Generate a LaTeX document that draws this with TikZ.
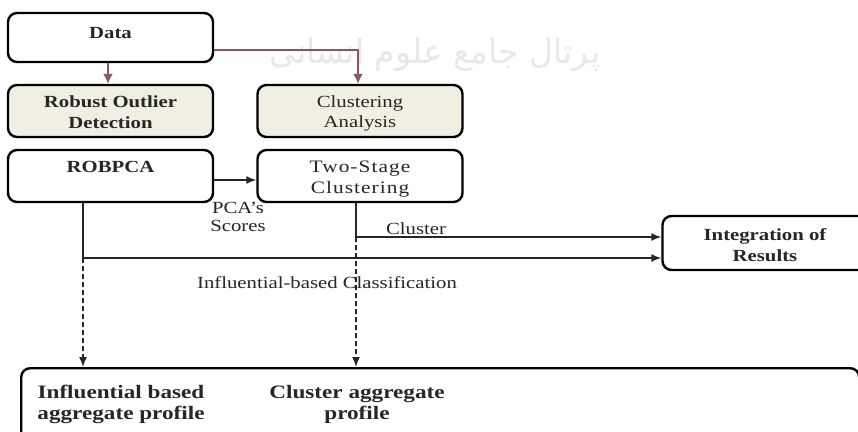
\documentclass[tikz,border=0pt]{standalone}
\usepackage{fontspec}
\setmainfont[FakeStretch=1.22]{Liberation Serif}
\newfontfamily\fafont[Script=Arabic]{DejaVu Sans}
\TeXXeTstate=1
\usetikzlibrary{arrows.meta}
\definecolor{beige}{RGB}{240,239,226}
\definecolor{mauve}{RGB}{140,85,95}
\tikzset{
  box/.style={draw=black, line width=2.4pt, rounded corners=9pt, minimum width=205pt, minimum height=52pt, inner sep=0pt, fill=white},
  shaded/.style={box, fill=beige},
  lbl/.style={font=\fontsize{17}{21}\selectfont\bfseries, align=center, text=black!85, inner sep=0pt},
  lblr/.style={lbl, font=\fontsize{17}{20}\selectfont},
  bigl/.style={lbl, font=\fontsize{19}{21}\selectfont\bfseries},
  conn/.style={line width=1.5pt, draw=black!85, -{Latex[length=10pt,width=8pt]}},
  line/.style={line width=1.5pt, draw=black!85},
  dconn/.style={conn, dash pattern=on 5pt off 3pt},
  mconn/.style={conn, draw=mauve, line width=1.8pt, -{Latex[length=10pt,width=10pt]}},
  wm/.style={text=black!9, font=\fafont\fontsize{33}{33}\selectfont, inner sep=0pt}
}
\begin{document}
\begin{tikzpicture}[x=1pt,y=-1pt]
\useasboundingbox (0,0) rectangle (858,431);
\clip (0,0) rectangle (858,431);
\fill[white] (0,0) rectangle (858,431);
% watermark
\node[wm] (wmark) at (435,55) {\beginR پرتال جامع علوم انسانی\endR};
% boxes
\node[box] (data) at (110.5,37.5) [minimum height=49pt] {};
\node[lbl] (datat) at (110.5,33) {Data};
\node[shaded] (rod) at (110.5,111) {};
\node[lbl] (rodt) at (110.5,112.5) {Robust Outlier\\Detection};
\node[shaded] (ca) at (360,111) {};
\node[lblr] (cat) at (360,113) {Clustering\\Analysis};
\node[box] (rob) at (110.5,176) {};
\node[lbl] (robt) at (110.5,167) {ROBPCA};
\node[box] (ts) at (360,176) {};
\node[lblr, font=\fontsize{17.5}{21}\selectfont\addfontfeature{LetterSpace=6}] (tst) at (360,179) {Two-Stage\\Clustering};
\node[box, minimum height=54pt] (int) at (765,243) {};
\node[lbl] (intt) at (765,245) {Integration of\\Results};
\node[box, anchor=north west, minimum width=838pt, minimum height=80pt] (bot) at (20,367) {};
\node[bigl] (bott1) at (121,404) {Influential based\\aggregate profile};
\node[bigl] (bott2) at (357,404) {Cluster aggregate\\profile};
% coordinates
\coordinate (dc) at (358,50);
\coordinate (j1) at (83,258);
\coordinate (j2) at (356,237);
% connectors
\draw[mconn] (data.south -| 108,0) -- (rod.north -| 108,0);
\draw[mconn] (data.east |- dc) -- (dc) -- (ca.north -| dc);
\draw[conn] ([yshift=-4pt]rob.east) -- ([yshift=-4pt]ts.west);
\draw[line] (rob.south -| j1) -- (j1);
\draw[conn] (j1) -- (int.west |- j1);
\draw[line] (ts.south -| j2) -- (j2);
\draw[conn] (j2) -- (int.west |- j2);
\draw[dconn] (j1) -- (bot.north -| j1);
\draw[dconn] (j2) -- (bot.north -| j2);
% labels
\node[lblr, font=\fontsize{17}{18}\selectfont] (pca) at (238,217) {PCA’s\\Scores};
\node[lblr] (clu) at (416,229) {Cluster};
\node[lblr] (infc) at (327,283) {Influential-based Classification};
\end{tikzpicture}
\end{document}
